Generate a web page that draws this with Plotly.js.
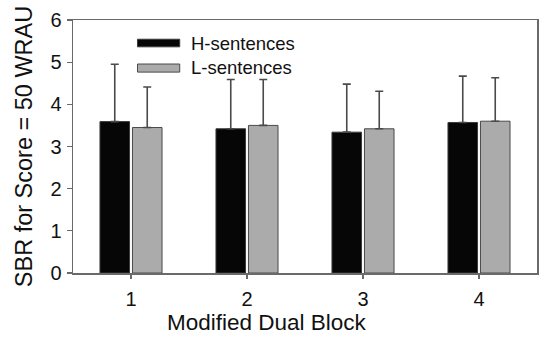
<!DOCTYPE html>
<html>
<head>
<meta charset="utf-8">
<script src="https://cdn.plot.ly/plotly-3.0.1.min.js"></script>
<style>html,body{margin:0;padding:0;background:#fff;}#chart{width:539px;height:337px;}</style>
</head>
<body>
<div id="chart"></div>
<script>
var categories = ["1", "2", "3", "4"];
var seriesNames = ["H-sentences", "L-sentences"];
var hValues = [3.59, 3.42, 3.34, 3.57];
var lValues = [3.45, 3.50, 3.42, 3.60];
var hErrors = [1.36, 1.17, 1.14, 1.10];
var lErrors = [0.96, 1.09, 0.89, 1.03];
var yTicks = [0, 1, 2, 3, 4, 5, 6];
var xTitle = "Modified Dual Block";
var yTitle = "SBR for Score = 50 WRAU";

var FONT = "Liberation Sans, Arial, sans-serif";
var TXT = "#111111";

function zeros(n){ var a=[]; for(var i=0;i<n;i++) a.push(0); return a; }

var errStyle = {color: "#4a4a4a", thickness: 1.6, width: 4};

var traces = [
  {
    type: "bar", name: seriesNames[0], x: categories, y: hValues,
    marker: {color: "#060606", line: {color: "#3a3a3a", width: 1}},
    error_y: Object.assign({type: "data", symmetric: false, array: hErrors, arrayminus: zeros(hErrors.length), visible: true}, errStyle),
    showlegend: false
  },
  {
    type: "bar", name: seriesNames[1], x: categories, y: lValues,
    marker: {color: "#ababab", line: {color: "#4a4a4a", width: 1}},
    error_y: Object.assign({type: "data", symmetric: false, array: lErrors, arrayminus: zeros(lErrors.length), visible: true}, errStyle),
    showlegend: false
  }
];

var layout = {
  width: 539, height: 337,
  margin: {l: 73, r: 2, t: 20, b: 64, pad: 0},
  paper_bgcolor: "#ffffff", plot_bgcolor: "#ffffff",
  font: {family: FONT, color: TXT},
  barmode: "group", bargap: 0.44, bargroupgap: 0.09,
  showlegend: false,
  xaxis: {
    type: "category", range: [-0.5, 3.5],
    showgrid: false, zeroline: false,
    showline: true, linecolor: "#6a6a6a", linewidth: 1.5, mirror: true,
    ticks: "outside", ticklen: 4, tickwidth: 1.2, tickcolor: "#6a6a6a",
    tickfont: {size: 20, family: FONT, color: TXT},
    ticklabelstandoff: 3
  },
  yaxis: {
    range: [0, 6], tickvals: yTicks,
    showgrid: false, zeroline: false,
    showline: true, linecolor: "#6a6a6a", linewidth: 1.5, mirror: true,
    ticks: "outside", ticklen: 5, tickwidth: 1.2, tickcolor: "#6a6a6a",
    tickfont: {size: 20, family: FONT, color: TXT},
    ticklabelstandoff: 1,
    title: {text: yTitle, font: {size: 23.5, family: FONT, color: TXT}, standoff: 11}
  },
  shapes: [
    {type: "rect", xref: "paper", yref: "paper", x0: 0.139, x1: 0.230, y0: 0.894, y1: 0.924,
     fillcolor: "#060606", line: {color: "#3a3a3a", width: 1}},
    {type: "rect", xref: "paper", yref: "paper", x0: 0.139, x1: 0.230, y0: 0.794, y1: 0.826,
     fillcolor: "#ababab", line: {color: "#4a4a4a", width: 1}}
  ],
  annotations: [
    {xref: "paper", yref: "paper", x: 0.250, y: 0.907, xanchor: "left", yanchor: "middle",
     text: seriesNames[0], showarrow: false, font: {size: 18.5, family: FONT, color: TXT}},
    {xref: "paper", yref: "paper", x: 0.250, y: 0.812, xanchor: "left", yanchor: "middle",
     text: seriesNames[1], showarrow: false, font: {size: 18.5, family: FONT, color: TXT}},
    {xref: "paper", yref: "paper", x: 0.419, y: -0.250, xanchor: "center", yanchor: "bottom",
     borderpad: 0, text: xTitle, showarrow: false, font: {size: 22.5, family: FONT, color: TXT}}
  ]
};

Plotly.newPlot("chart", traces, layout, {displayModeBar: false, staticPlot: true});
</script>
</body>
</html>
